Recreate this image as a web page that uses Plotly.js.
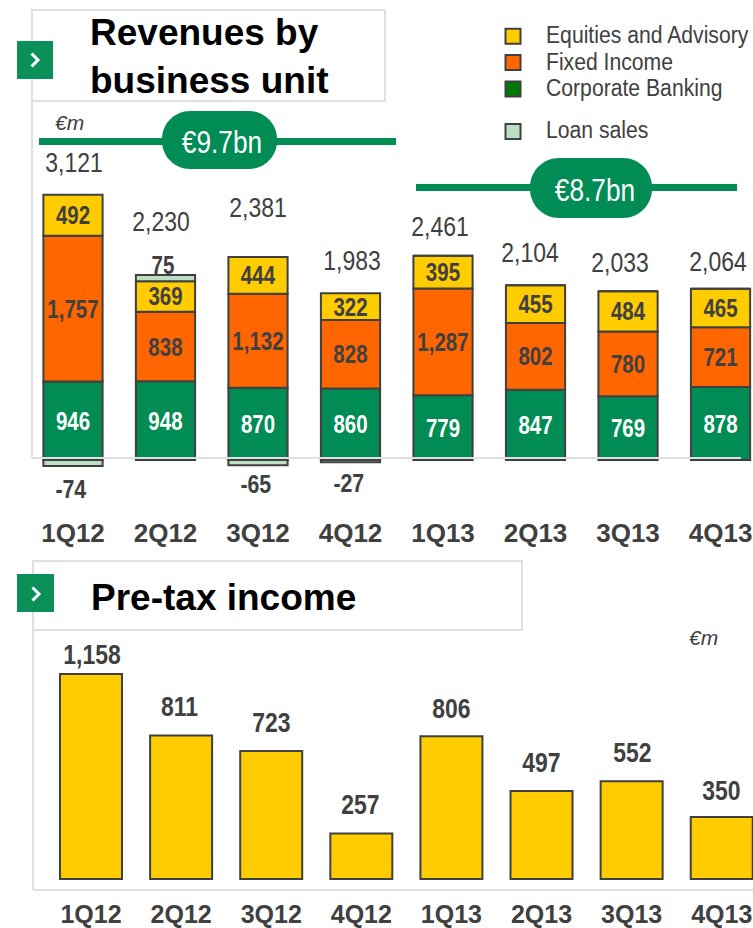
<!DOCTYPE html>
<html>
<head>
<meta charset="utf-8">
<script src="https://cdn.plot.ly/plotly-3.0.1.min.js"></script>
<style>html,body{margin:0;padding:0;background:#fff}</style>
</head>
<body>
<div id="chart" style="width:753px;height:928px"></div>
<script>
// ---- data ----
const quarters = ['1Q12','2Q12','3Q12','4Q12','1Q13','2Q13','3Q13','4Q13'];
const corporateBanking = [946,948,870,860,779,847,769,878];
const fixedIncome = [1757,838,1132,828,1287,802,780,721];
const equitiesAdvisory = [492,369,444,322,395,455,484,465];
const loanSales = [-74,75,-65,-27,0,0,0,0];
const revenueTotals = ['3,121','2,230','2,381','1,983','2,461','2,104','2,033','2,064'];
const pretaxIncome = [1158,811,723,257,806,497,552,350];
const pretaxLabels = ['1,158','811','723','257','806','497','552','350'];

// ---- label placement (pixels, not data) ----
const totalRise = [32,53,49,33,29,33,29,27];
const totalShift = [1,-4,0,1,-3,-6,-8,-3];
const pretaxRise = [19,29,28,29,28,28,29,27];
const pretaxShift = [1,-2,0,-1,0,0,1,0];
const loanDrop = {'-74': -23, '-65': -19, '-27': -21};

const W = 753, H = 928;
const px = x => x / W;
const py = y => 1 - y / H;
const NARROW = '"Liberation Sans Narrow","Liberation Sans",Arial,sans-serif';
const ARIAL = '"Liberation Sans",Arial,sans-serif';
const DARK = '#404040', GREEN = '#008C54', FRAME = '#E0E0E0';
const edge = {color: DARK, width: 2};
const fmt = a => a.map(v => v.toLocaleString('en-US'));

function stack(name, vals, color, txtColor, rank, group, labelled) {
  return {
    type: 'bar', name, x: quarters, y: vals, xaxis: 'x', yaxis: 'y',
    marker: {color, line: edge},
    text: labelled ? fmt(vals) : undefined,
    textposition: labelled ? 'inside' : 'none',
    insidetextanchor: 'middle', textangle: 0, constraintext: 'none',
    insidetextfont: {family: NARROW, size: 25, weight: 'bold', color: txtColor},
    legendrank: rank, legendgroup: group, hoverinfo: 'x+y+name'
  };
}

const traces = [
  stack('Corporate Banking', corporateBanking, GREEN, '#FFFFFF', 3, 'main', true),
  stack('Fixed Income', fixedIncome, '#FF6600', DARK, 2, 'main', true),
  stack('Equities and Advisory', equitiesAdvisory, '#FFCC00', DARK, 1, 'main', true),
  stack('Loan sales', loanSales, '#BBDFC0', DARK, 4, 'loans', false),
  {type: 'bar', name: 'Pre-tax income', x: quarters, y: pretaxIncome, xaxis: 'x2', yaxis: 'y2', width: 0.688,
   marker: {color: '#FFCC00', line: edge}, showlegend: false}
];

const annotations = [];
const ann = (o) => annotations.push(Object.assign({showarrow: false, xanchor: 'center', yanchor: 'middle'}, o));

quarters.forEach((q, i) => {
  const top = corporateBanking[i] + fixedIncome[i] + equitiesAdvisory[i] + Math.max(loanSales[i], 0);
  ann({x: q, y: top, xref: 'x', yref: 'y', yshift: totalRise[i], xshift: totalShift[i], text: revenueTotals[i],
       font: {family: NARROW, size: 28, color: DARK}});
  ann({x: q, y: pretaxIncome[i], xref: 'x2', yref: 'y2', yshift: pretaxRise[i], xshift: pretaxShift[i], text: pretaxLabels[i],
       font: {family: NARROW, size: 28, weight: 'bold', color: DARK}});
  if (loanSales[i] < 0) {
    ann({x: q, y: loanSales[i], xref: 'x', yref: 'y', yshift: loanDrop[loanSales[i]], xshift: -2, text: String(loanSales[i]),
         font: {family: NARROW, size: 26, weight: 'bold', color: DARK}});
  } else if (loanSales[i] > 0) {
    ann({x: q, y: top, xref: 'x', yref: 'y', yshift: 10, xshift: -2, text: String(loanSales[i]),
         font: {family: NARROW, size: 25, weight: 'bold', color: DARK}});
  }
});

const paperText = (x, y, text, font, anchor) => ann({xref: 'paper', yref: 'paper', x: px(x), y: py(y), text, font, xanchor: anchor || 'center'});
paperText(89, 597, 'Pre-tax income', {family: ARIAL, size: 37, weight: 'bold', color: '#000'}, 'left');
paperText(69, 123, '€m', {family: ARIAL, size: 21, style: 'italic', color: DARK});
paperText(703, 637, '€m', {family: ARIAL, size: 21, style: 'italic', color: DARK});
paperText(222, 142, '€9.7bn', {family: NARROW, size: 32, color: '#fff'});
paperText(595, 190, '€8.7bn', {family: NARROW, size: 32, color: '#fff'});

// ---- decoration in pixel coordinates ----
const shapes = [];
const line = (x0, y0, x1, y1, color, width, layer) => shapes.push({type: 'line', xref: 'paper', yref: 'paper',
  x0: px(x0), x1: px(x1), y0: py(y0), y1: py(y1), line: {color, width}, layer: layer || 'above'});
const rect = (x0, y0, x1, y1, fill, lc, lw) => shapes.push({type: 'rect', xref: 'paper', yref: 'paper',
  x0: px(x0), x1: px(x1), y0: py(y0), y1: py(y1), fillcolor: fill, line: {color: lc, width: lw}, layer: 'above'});
const pill = (x0, y0, x1, y1, r) => {
  const k = r * 0.45;
  const X = px, Y = py;
  const d = `M${X(x0 + r)},${Y(y0)} L${X(x1 - r)},${Y(y0)} C${X(x1 - k)},${Y(y0)} ${X(x1)},${Y(y0 + k)} ${X(x1)},${Y(y0 + r)} L${X(x1)},${Y(y1 - r)} C${X(x1)},${Y(y1 - k)} ${X(x1 - k)},${Y(y1)} ${X(x1 - r)},${Y(y1)} L${X(x0 + r)},${Y(y1)} C${X(x0 + k)},${Y(y1)} ${X(x0)},${Y(y1 - k)} ${X(x0)},${Y(y1 - r)} L${X(x0)},${Y(y0 + r)} C${X(x0)},${Y(y0 + k)} ${X(x0 + k)},${Y(y0)} ${X(x0 + r)},${Y(y0)} Z`;
  shapes.push({type: 'path', xref: 'paper', yref: 'paper', path: d, fillcolor: GREEN, line: {width: 0}, layer: 'above'});
};
const chevron = (cx, cy) => shapes.push({type: 'path', xref: 'paper', yref: 'paper',
  path: `M${px(cx - 3.5)},${py(cy - 6.5)} L${px(cx + 3)},${py(cy)} L${px(cx - 3.5)},${py(cy + 6.5)}`,
  line: {color: '#fff', width: 3}, layer: 'above'});

rect(32, 10, 385, 101, 'rgba(0,0,0,0)', FRAME, 2);
line(32, 101, 32, 458, FRAME, 2);
line(32, 458, 741, 458, FRAME, 2);
rect(33, 561, 522, 630, 'rgba(0,0,0,0)', FRAME, 2);
line(33, 630, 33, 890, FRAME, 2);
line(33, 890, 753, 890, FRAME, 2);
line(39, 141.5, 396, 141.5, GREEN, 7);
line(416, 187.5, 737, 187.5, GREEN, 7);
pill(162, 111, 277, 169, 28);
pill(530, 158, 652, 218, 29);
rect(17, 41, 53, 79, '#0A9058', '#0A9058', 0);
rect(17, 574, 54, 612, '#0A9058', '#0A9058', 0);
chevron(35, 60);
chevron(36, 594);

const tickFont = size => ({family: ARIAL, size, weight: 'bold', color: DARK});
const xBase = {type: 'category', categoryorder: 'array', categoryarray: quarters,
  ticks: '', showgrid: false, showline: false, zeroline: false, fixedrange: true};
const yBase = {visible: false, showgrid: false, zeroline: false, fixedrange: true};

const layout = {
  width: W, height: H, autosize: false,
  margin: {l: 0, r: 0, t: 0, b: 0, pad: 0},
  paper_bgcolor: '#fff', plot_bgcolor: 'rgba(0,0,0,0)',
  barmode: 'relative', bargap: 0.36, showlegend: true,
  title: {text: 'Revenues by<br>business unit', x: px(90), xref: 'paper', xanchor: 'left',
          y: py(44.5), yref: 'paper', yanchor: 'middle',
          font: {family: ARIAL, size: 37, weight: 'bold', color: '#000'}},
  xaxis: Object.assign({}, xBase, {tickfont: tickFont(26), domain: [0, 1], anchor: 'y', range: [-0.789, 7.351]}),
  yaxis: Object.assign({}, yBase, {domain: [py(515), py(110)], anchor: 'x', range: [-663, 4217]}),
  xaxis2: Object.assign({}, xBase, {tickfont: tickFont(25), domain: [0, 1], anchor: 'y2', range: [-1.01, 7.347]}),
  yaxis2: Object.assign({}, yBase, {domain: [py(897), py(640)], anchor: 'x2', range: [-102, 1350]}),
  legend: {x: px(480), y: py(18), xanchor: 'left', yanchor: 'top', traceorder: 'grouped', tracegroupgap: 16, itemwidth: 56,
           bgcolor: 'rgba(0,0,0,0)', font: {family: NARROW, size: 18, color: DARK}, itemclick: false, itemdoubleclick: false},
  shapes, annotations
};

// No condensed face is installed: condense the narrow-labelled texts in place.
function condense(el, factor) {
  const len = el.getComputedTextLength();
  el.setAttribute('lengthAdjust', 'spacingAndGlyphs');
  el.setAttribute('textLength', (len * factor).toFixed(1));
}
Plotly.newPlot('chart', traces, layout, {displayModeBar: false, responsive: false}).then(gd => {
  gd.querySelectorAll('.legendtext').forEach(t => { t.style.fontSize = '23px'; condense(t, 0.92); });
  gd.querySelectorAll('text').forEach(t => {
    if (!t.classList.contains('legendtext') && t.style.fontFamily.includes('Narrow')) condense(t, 0.82);
  });
  gd.querySelectorAll('.legend .scrollbox, .legend').forEach(g => g.removeAttribute('clip-path'));
  gd.querySelectorAll('.legend .traces').forEach(tr => {
    const p = tr.querySelector('.legendpoints path');
    if (!p) return;
    p.setAttribute('d', 'M7.5,7.5H-7.5V-7.5H7.5Z');
    if (tr.querySelector('.legendtext').textContent === 'Corporate Banking') p.style.fill = '#007A00';
  });
});
</script>
</body>
</html>
